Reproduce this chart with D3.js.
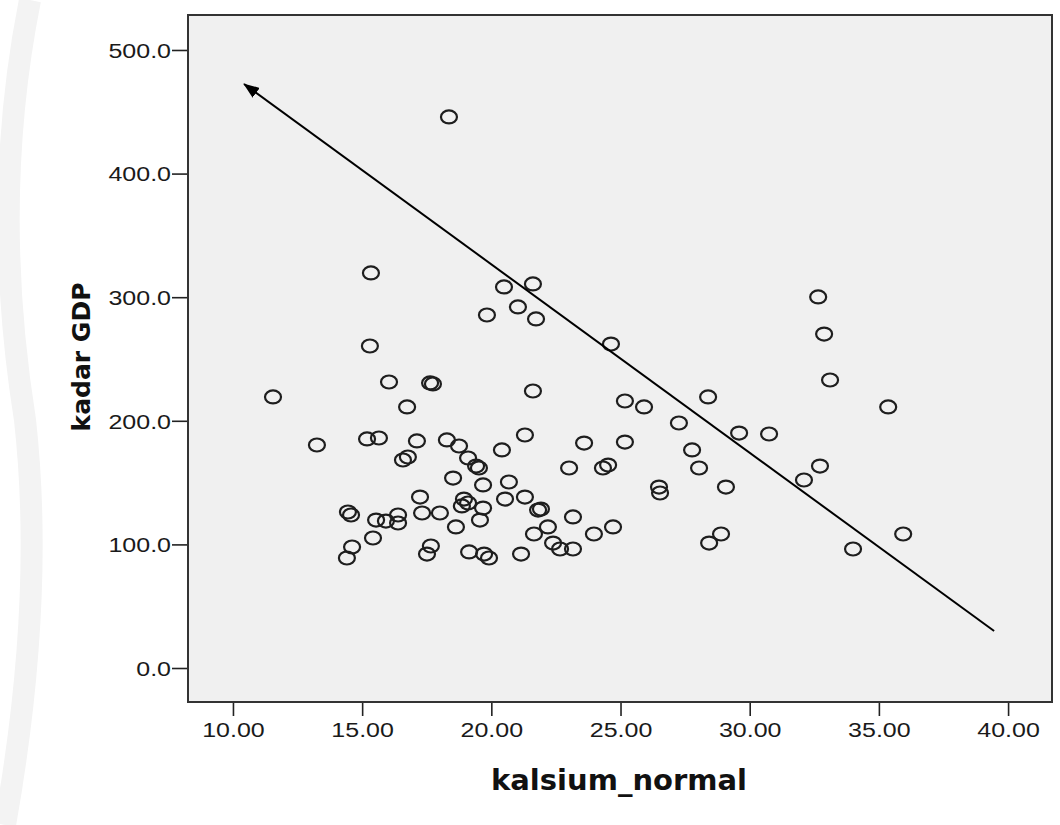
<!DOCTYPE html>
<html>
<head>
<meta charset="utf-8">
<script src="https://cdn.jsdelivr.net/npm/d3@7"></script>
<style>
  html, body { margin: 0; padding: 0; background: #ffffff; }
  svg { display: block; }
</style>
</head>
<body>
<svg id="chart" width="1060" height="825"></svg>
<script>
// ---- data ----
const kalsiumNormal = [
  18.36, 15.34, 20.49, 21.61, 21.03, 19.83, 21.73, 32.65, 32.88, 15.30,
  24.63, 33.11, 16.04, 17.63, 17.74, 21.61, 11.55, 16.74, 25.17, 25.91,
  28.39, 35.36, 27.26, 29.59, 30.75, 13.25, 15.19, 15.65, 17.12, 18.28,
  18.75, 21.30, 23.59, 25.17, 20.41, 27.77, 16.58, 16.77, 19.10, 19.41,
  19.52, 23.01, 24.32, 24.52, 28.04, 32.72, 18.52, 19.68, 20.68, 26.49,
  26.53, 29.08, 32.10, 17.24, 18.94, 19.10, 18.86, 20.53, 21.30, 17.32,
  18.01, 19.68, 21.81, 21.92, 23.16, 14.45, 14.57, 15.54, 15.92, 16.39,
  16.39, 18.63, 19.56, 22.19, 24.71, 15.42, 14.61, 17.66, 21.65, 23.97,
  28.89, 28.43, 22.39, 22.66, 23.16, 14.41, 17.51, 19.14, 19.72, 19.91,
  21.15, 34.00, 35.94
];
const kadarGDP = [
  445.8, 319.6, 308.3, 310.7, 292.1, 285.6, 282.4, 300.2, 270.2, 260.5,
  262.1, 233.0, 231.4, 230.6, 229.8, 224.1, 219.3, 211.2, 216.0, 211.2,
  219.3, 211.2, 198.2, 190.1, 189.3, 180.4, 185.3, 186.1, 183.7, 184.5,
  179.6, 188.5, 182.0, 182.8, 176.4, 176.4, 168.3, 170.7, 169.9, 163.4,
  161.8, 161.8, 161.8, 164.2, 161.8, 163.4, 153.7, 148.1, 150.5, 146.4,
  141.6, 146.4, 152.1, 138.3, 136.7, 133.5, 131.1, 136.7, 138.3, 125.4,
  125.4, 129.4, 127.8, 128.6, 122.2, 126.2, 123.8, 119.7, 118.9, 123.8,
  117.3, 114.1, 119.7, 114.1, 114.1, 105.2, 97.9, 98.7, 108.4, 108.4,
  108.4, 101.1, 101.1, 96.3, 96.3, 89.0, 92.2, 93.9, 92.2, 89.0,
  92.2, 96.3, 108.4
];
const xTicks = [10, 15, 20, 25, 30, 35, 40];
const yTicks = [0, 100, 200, 300, 400, 500];
const arrowFrom = [39.46, 29.9];
const arrowTo = [10.43, 472.5];
const xTitle = "kalsium_normal";
const yTitle = "kadar GDP";

// ---- layout ----
const svg = d3.select("#chart");
const W = 1060, H = 825;
const plot = { left: 188, right: 1052, top: 15, bottom: 702 };

svg.append("rect").attr("width", W).attr("height", H).attr("fill", "#ffffff");

// faint watermark on the far left
svg.append("path")
  .attr("d", "M 30 0 Q -10 200 25 420 Q 45 600 5 825")
  .attr("fill", "none").attr("stroke", "#f3f3f3").attr("stroke-width", 22);

const x = d3.scaleLinear().domain([8.26, 41.7]).range([plot.left, plot.right]);
const y = d3.scaleLinear().domain([-27.5, 528.3]).range([plot.bottom, plot.top]);

// plot background
svg.append("rect")
  .attr("x", plot.left).attr("y", plot.top)
  .attr("width", plot.right - plot.left).attr("height", plot.bottom - plot.top)
  .attr("fill", "#f0f0f0");

// axes
const xAxis = svg.append("g")
  .attr("transform", `translate(0,${plot.bottom})`)
  .call(d3.axisBottom(x).tickValues(xTicks).tickSize(14).tickPadding(6)
        .tickFormat(d3.format(".2f")));
const yAxis = svg.append("g")
  .attr("transform", `translate(${plot.left},0)`)
  .call(d3.axisLeft(y).tickValues(yTicks).tickSize(16).tickPadding(1)
        .tickFormat(d3.format(".1f")));

[xAxis, yAxis].forEach(g => {
  g.select(".domain").remove();
  g.selectAll(".tick line").attr("stroke", "#222").attr("stroke-width", 1.6);
  g.selectAll(".tick text")
    .attr("fill", "#1a1a1a")
    .style("font-family", "'Liberation Sans', Arial, sans-serif")
    .style("font-size", "20px")
    .attr("lengthAdjust", "spacingAndGlyphs")
    .each(function () {
      const w = this.getComputedTextLength();
      d3.select(this).attr("textLength", w * 1.25);
    });
});
xAxis.selectAll(".tick text").attr("y", 35).attr("dy", 0);
yAxis.selectAll(".tick text").attr("x", -17).attr("dy", "0.36em");

// frame
svg.append("rect")
  .attr("x", plot.left).attr("y", plot.top)
  .attr("width", plot.right - plot.left).attr("height", plot.bottom - plot.top)
  .attr("fill", "none").attr("stroke", "#333").attr("stroke-width", 2);

// points
const pts = kalsiumNormal.map((v, i) => ({ x: v, y: kadarGDP[i] }));
svg.append("g").selectAll("ellipse").data(pts).join("ellipse")
  .attr("cx", d => x(d.x)).attr("cy", d => y(d.y))
  .attr("rx", 8).attr("ry", 6.5)
  .attr("fill", "none").attr("stroke", "#1e1e1e").attr("stroke-width", 2.2);

// arrow
svg.append("defs").append("marker")
  .attr("id", "arrowHead")
  .attr("markerUnits", "userSpaceOnUse")
  .attr("viewBox", "0 0 16 12")
  .attr("refX", 15).attr("refY", 6)
  .attr("markerWidth", 16).attr("markerHeight", 12)
  .attr("orient", "auto")
  .append("path").attr("d", "M0,0 L16,6 L0,12 Z").attr("fill", "#000");

svg.append("line")
  .attr("x1", x(arrowFrom[0])).attr("y1", y(arrowFrom[1]))
  .attr("x2", x(arrowTo[0])).attr("y2", y(arrowTo[1]))
  .attr("stroke", "#000").attr("stroke-width", 2)
  .attr("marker-end", "url(#arrowHead)");

// titles
svg.append("text")
  .attr("x", 619).attr("y", 790)
  .attr("text-anchor", "middle")
  .style("font-family", "'DejaVu Sans', Verdana, sans-serif")
  .style("font-weight", "bold").style("font-size", "29px")
  .attr("fill", "#111")
  .text(xTitle);

svg.append("text")
  .attr("transform", "translate(90,357) rotate(-90)")
  .attr("text-anchor", "middle")
  .style("font-family", "'DejaVu Sans', Verdana, sans-serif")
  .style("font-weight", "bold").style("font-size", "25px")
  .attr("fill", "#111")
  .text(yTitle);
</script>
</body>
</html>
